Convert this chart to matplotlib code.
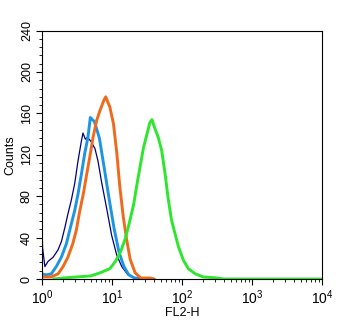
import matplotlib
matplotlib.use('Agg')
import matplotlib.pyplot as plt
from matplotlib.ticker import FixedLocator, MultipleLocator, LogLocator, NullFormatter

plt.rcParams['font.family'] = 'Liberation Sans'
plt.rcParams['mathtext.fontset'] = 'custom'
plt.rcParams['mathtext.rm'] = 'Liberation Sans'

# FL2-H intensity (x) and event counts (y) for each histogram
navy_x = [1.0, 1.02, 1.1, 1.22, 1.44, 1.69, 1.89, 2.11, 2.35, 2.62, 2.93, 3.27, 3.65, 3.85,
          4.17, 4.45, 5.0, 5.71, 6.31, 7.13, 8.4, 9.9, 11.7, 13.8, 16.9, 21.4, 28.0]
navy_y = [55, 30, 12, 17, 21, 28, 36, 49, 63, 76, 92, 114, 133, 141,
          135, 137, 133, 126, 114, 93, 68, 42, 23, 12, 4, 1, 0]

blue_x = [1.0, 1.15, 1.36, 1.6, 1.89, 2.23, 2.62, 2.93, 3.27, 3.65, 4.07, 4.54, 4.9,
          5.62, 6.61, 7.76, 9.12, 10.7, 12.6, 14.8, 17.4, 20.9, 28.2]
blue_y = [5, 4, 5, 12, 21, 34, 53, 66, 82, 101, 121, 137, 156,
          152, 136, 107, 77, 49, 26, 12, 4, 1, 0]

orange_x = [1.0, 1.35, 1.7, 2.0, 2.34, 2.75, 3.09, 3.47, 3.89, 4.27, 4.79, 5.37, 6.03, 6.76,
            7.59, 8.13, 9.33, 10.5, 11.7, 12.9, 14.5, 16.2, 18.2, 21.4, 25.7, 35.5, 39.8]
orange_y = [2, 2, 5, 12, 21, 34, 47, 66, 82, 98, 117, 137, 153, 163,
            172, 176, 166, 150, 122, 90, 60, 38, 19, 6, 1, 1, 0]

green_x = [1.48, 2.0, 3.16, 5.0, 6.76, 9.33, 11.2, 13.2, 15.5, 17.8, 20.4, 22.4, 25.1, 28.2,
           31.6, 34.7, 37.2, 40.7, 45.7, 51.3, 57.5, 63.1, 70.8, 79.4, 89.1, 105, 123, 155,
           200, 316, 398, 10000]
green_y = [0, 1, 2, 3, 6, 10, 17, 26, 39, 55, 72, 89, 108, 127,
           140, 151, 154, 146, 137, 124, 101, 79, 57, 44, 31, 18, 10, 5,
           2, 1, 0, 0]

x_ticks = [1, 10, 100, 1000, 10000]
x_ticklabels = ['$10^0$', '$10^1$', '$10^2$', '$10^3$', '$10^4$']
y_ticks = [0, 40, 80, 120, 160, 200, 240]

fig = plt.figure(figsize=(3.43, 3.25), dpi=100)
ax = fig.add_axes([0.1224, 0.1415, 0.8164, 0.7645])

ax.plot(navy_x, navy_y, color='#00007f', lw=0.9)
ax.plot(blue_x, blue_y, color='#1e95e3', lw=2.1)
ax.plot(orange_x, orange_y, color='#f06a1c', lw=2.1)
ax.plot(green_x, green_y, color='#2ee62e', lw=2.1)

ax.set_xscale('log')
ax.set_xlim(1, 10000)
ax.set_ylim(0, 240)

ax.xaxis.set_major_locator(FixedLocator(x_ticks))
ax.set_xticklabels(x_ticklabels, fontsize=10)
ax.xaxis.set_minor_locator(LogLocator(base=10, subs=range(2, 10), numticks=20))
ax.xaxis.set_minor_formatter(NullFormatter())

ax.yaxis.set_major_locator(FixedLocator(y_ticks))
ax.yaxis.set_minor_locator(MultipleLocator(8))
ax.set_yticklabels([str(v) for v in y_ticks], fontsize=9, rotation=90, va='center')

ax.tick_params(which='major', direction='out', length=4.5, width=0.8, pad=2)
ax.tick_params(which='minor', direction='out', length=2.5, width=0.6)
ax.tick_params(top=False, right=False)

for side in ax.spines.values():
    side.set_linewidth(0.8)

ax.set_xlabel('FL2-H', fontsize=9, labelpad=0)
ax.set_ylabel('Counts', fontsize=9, labelpad=3)

fig.savefig('out.png', dpi=100)
